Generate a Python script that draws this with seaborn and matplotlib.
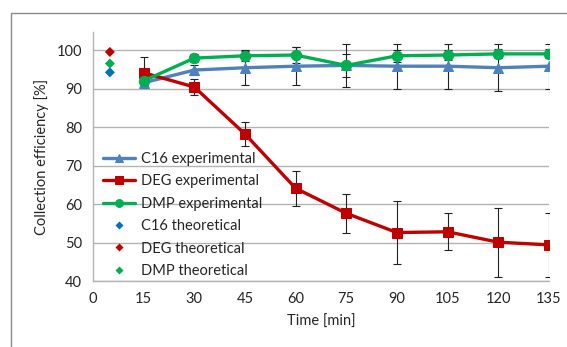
import numpy as np
import pandas as pd
import matplotlib
matplotlib.use("Agg")
import matplotlib.pyplot as plt
import seaborn as sns
from matplotlib.patches import Rectangle

# time points [min]
time = [15, 30, 45, 60, 75, 90, 105, 120, 135]

# experimental collection efficiency [%]
c16_exp = [91.5, 94.8, 95.4, 95.8, 96.0, 95.8, 95.8, 95.4, 95.8]
deg_exp = [94.1, 90.4, 78.2, 64.1, 57.6, 52.6, 52.8, 50.1, 49.4]
dmp_exp = [92.0, 97.9, 98.5, 98.7, 96.0, 98.5, 98.7, 99.0, 99.0]

# error bar half-widths
c16_err = [1.0, 1.2, 4.5, 5.0, 5.5, 5.8, 5.8, 6.1, 5.8]
deg_err = [4.0, 2.0, 3.0, 4.6, 5.0, 8.2, 4.8, 9.0, 8.4]
dmp_err = [1.0, 1.0, 1.3, 2.0, 3.0, 1.5, 1.2, 1.2, 1.2]

# theoretical values (shown at t = 5)
theo_time = 5
c16_theo = 94.2
deg_theo = 99.5
dmp_theo = 96.5

c_c16, c_deg, c_dmp = "#4F81BD", "#C00000", "#00B050"
c_c16_theo = "#0070C0"

sns.set_style("white")
plt.rcParams["font.family"] = ["Lato", "DejaVu Sans"]

fig = plt.figure(figsize=(5.67, 3.47), dpi=100)
ax = fig.add_axes([0.164, 0.19, 0.804, 0.718])

# outer chart border (cropped Excel frame)
fig.patches.append(Rectangle((11 / 567, -0.1), 1.2, 0.1 + 1 - 13 / 347,
                             transform=fig.transFigure, fill=False,
                             edgecolor="#8c8c8c", lw=1.0, clip_on=False))

df = pd.DataFrame({
    "time": time * 3,
    "eff": c16_exp + deg_exp + dmp_exp,
    "err": c16_err + deg_err + dmp_err,
    "series": ["C16 experimental"] * 9 + ["DEG experimental"] * 9 + ["DMP experimental"] * 9,
})

styles = {
    "C16 experimental": (c_c16, "^", 7.5),
    "DEG experimental": (c_deg, "s", 7.5),
    "DMP experimental": (c_dmp, "o", 7.5),
}

# error bars first, below the lines
for name, (col, mk, ms) in styles.items():
    sub = df[df["series"] == name]
    ax.errorbar(sub["time"], sub["eff"], yerr=sub["err"], fmt="none",
                ecolor="#222222", elinewidth=0.8, capsize=3, capthick=0.8, zorder=2)

for name, (col, mk, ms) in styles.items():
    sub = df[df["series"] == name]
    sns.lineplot(data=sub, x="time", y="eff", ax=ax, color=col, marker=mk,
                 markersize=ms, markeredgecolor=col, linewidth=2.4,
                 label=name, zorder=3)

theo = pd.DataFrame({
    "time": [theo_time] * 3,
    "eff": [c16_theo, deg_theo, dmp_theo],
    "series": ["C16 theoretical", "DEG theoretical", "DMP theoretical"],
})
sns.scatterplot(data=theo, x="time", y="eff", hue="series", ax=ax,
                palette=[c_c16_theo, c_deg, c_dmp], marker="D", s=26,
                edgecolor="none", zorder=4)

ax.set_xlim(0, 135)
ax.set_ylim(40, 104.7)
ax.set_xticks(np.arange(0, 136, 15))
ax.set_yticks(np.arange(40, 101, 10))
ax.yaxis.grid(True, color="#b3b3b3", lw=1.0)
ax.set_axisbelow(True)
for s in ["top", "right"]:
    ax.spines[s].set_visible(False)
for s in ["left", "bottom"]:
    ax.spines[s].set_color("#b3b3b3")
    ax.spines[s].set_linewidth(1.0)
ax.tick_params(axis="both", which="major", direction="out", length=4,
               color="#b3b3b3", labelsize=10.5, labelcolor="#262626", pad=4)

ax.set_xlabel("Time [min]", fontsize=10.5, color="#262626", labelpad=6)
ax.set_ylabel("Collection efficiency [%]", fontsize=10.5, color="#262626", labelpad=5)

handles, labels = ax.get_legend_handles_labels()
ax.legend(handles, labels, loc="upper left", bbox_to_anchor=(0.0, 0.56),
          frameon=False, fontsize=10.5, handlelength=2.2, handletextpad=0.4,
          labelspacing=0.58, borderaxespad=0.3, markerscale=0.75)

fig.savefig("out.png", dpi=100)
